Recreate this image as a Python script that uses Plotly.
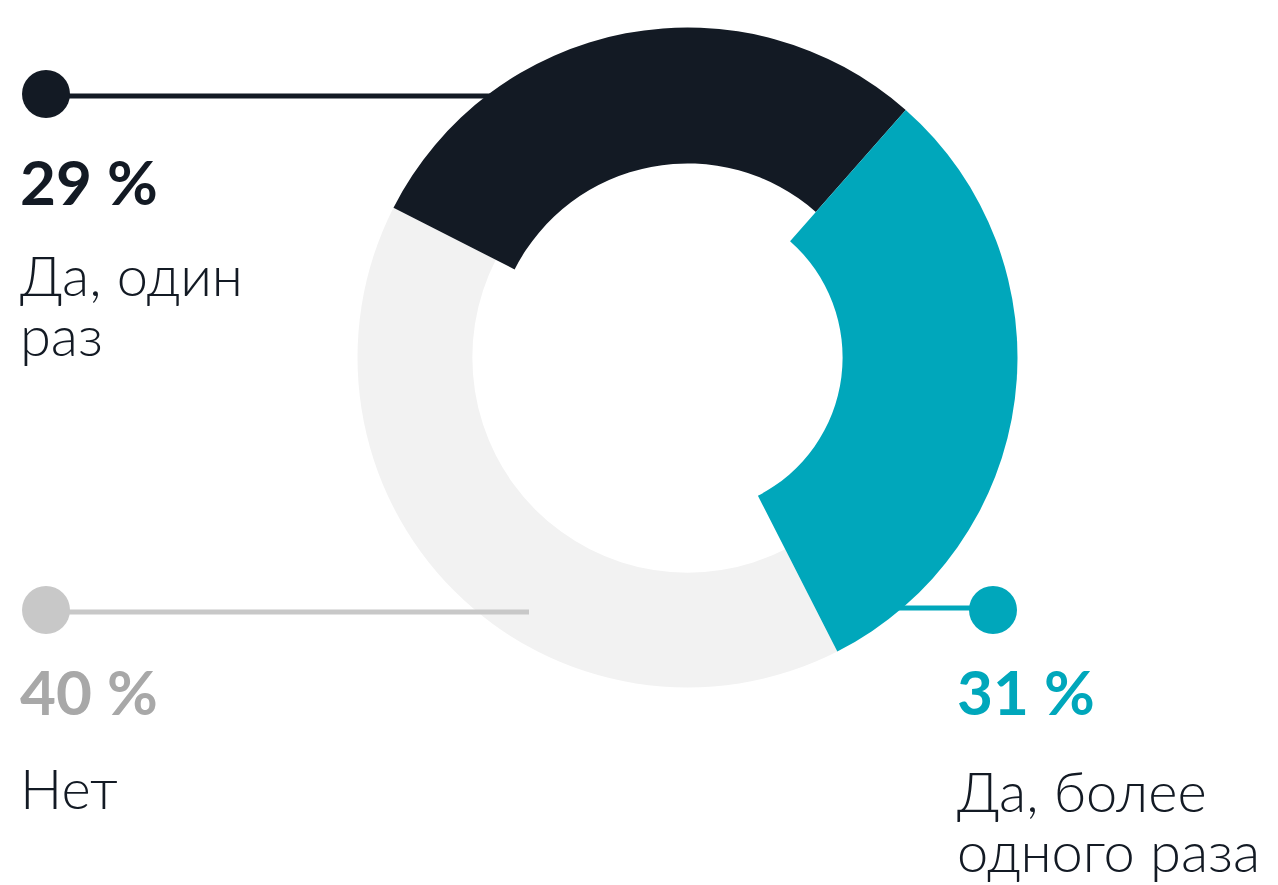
import plotly.graph_objects as go

# ---- data ----
labels = ["Да, один раз", "Да, более одного раза", "Нет"]
values = [29, 31, 40]
pct_texts = ["29 %", "31 %", "40 %"]

# ---- style ----
OFF = 8                      # page body margin offset in the browser
W, H = 1278, 885             # window size
FW, FH = W - OFF, H - OFF    # figure size
DARK = "#131a24"
TEAL = "#00a7bb"
RING_GRAY = "#f2f2f2"
DOT_GRAY = "#c8c8c8"
TXT_GRAY = "#a8a8a8"
TRANSP = "rgba(0,0,0,0)"
slice_colors = [DARK, TEAL, RING_GRAY]
holes = [0.588, 0.47, 0.652]   # each slice has its own ring thickness

cx, cy, R = 687.5, 357.5, 330.0
dom_x = [(cx - R - OFF) / FW, (cx + R - OFF) / FW]
dom_y = [1 - (cy + R - OFF) / FH, 1 - (cy - R - OFF) / FH]

fig = go.Figure()
order = [2, 0, 1]
for i in order:
    cols = [slice_colors[j] if j == i else TRANSP for j in range(len(values))]
    fig.add_trace(go.Pie(
        labels=labels, values=values, sort=False, direction="clockwise",
        rotation=-63, hole=holes[i], domain=dict(x=dom_x, y=dom_y),
        marker=dict(colors=cols, line=dict(width=0)),
        textinfo="none", showlegend=False, hoverinfo="skip",
    ))

# invisible axes in window-pixel units for decorations
fig.update_xaxes(range=[OFF, W], visible=False, fixedrange=True)
fig.update_yaxes(range=[H, OFF], visible=False, fixedrange=True)

shapes = []
# connector lines + dots: (dot x, dot y, line x0, line x1, line y, color)
connectors = [
    (46, 94, 46, 494, 96, DARK),
    (46, 610, 46, 529, 612, DOT_GRAY),
    (993, 610, 880, 993, 608, TEAL),
]
for dx, dy, lx0, lx1, ly, col in connectors:
    shapes.append(dict(type="line", xref="x", yref="y", x0=lx0, x1=lx1, y0=ly, y1=ly,
                       line=dict(color=col, width=5), layer="above"))
    shapes.append(dict(type="circle", xref="x", yref="y", x0=dx - 24, x1=dx + 24,
                       y0=dy - 24, y1=dy + 24, fillcolor=col, line=dict(width=0),
                       layer="above"))

FONT = "Lato"
ann = []
def add_text(x, y, text, size, color, weight):
    ann.append(dict(x=x, y=y, xref="x", yref="y", text=text, showarrow=False,
                    xanchor="left", yanchor="middle",
                    font=dict(family=FONT, size=size, color=color, weight=weight)))

# percentages
add_text(18, 181, pct_texts[0], 62, DARK, 700)
add_text(18, 691, pct_texts[2], 62, TXT_GRAY, 700)
add_text(955, 691, pct_texts[1], 62, TEAL, 700)
# labels
add_text(18, 274, "Да, один", 56, DARK, 300)
add_text(18, 334, "раз", 56, DARK, 300)
add_text(18, 787, "Нет", 56, DARK, 300)
add_text(955, 790, "Да, более", 56, DARK, 300)
add_text(955, 850, "одного раза", 56, DARK, 300)

fig.update_layout(
    width=FW, height=FH, margin=dict(l=0, r=0, t=0, b=0),
    paper_bgcolor="white", plot_bgcolor="white",
    shapes=shapes, annotations=ann, showlegend=False,
)
fig.write_html("out.html")
